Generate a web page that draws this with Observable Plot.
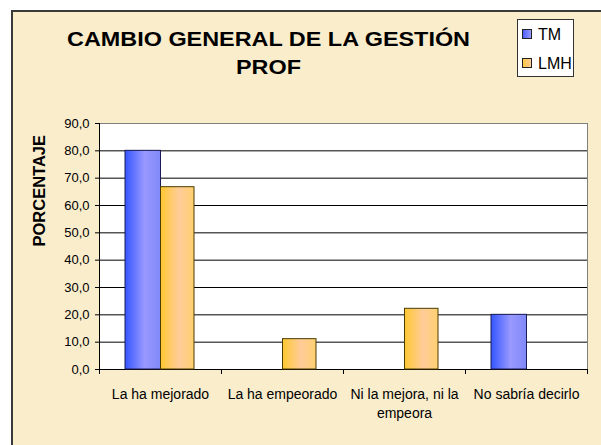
<!DOCTYPE html>
<html>
<head>
<meta charset="utf-8">
<script src="https://cdn.jsdelivr.net/npm/d3@7"></script>
<script src="https://cdn.jsdelivr.net/npm/@observablehq/plot@0.6"></script>
<style>
  html, body { margin: 0; padding: 0; background: #ffffff; }
  body { width: 601px; height: 445px; position: relative; overflow: hidden; font-family: "Liberation Sans", Arial, sans-serif; }
  #panel { position: absolute; left: 11px; top: 10px; width: 592px; height: 437px; border-left: 2px solid #3a3a3a; border-top: 2px solid #3a3a3a; background: #faedcc; }
  #chart { position: absolute; left: 0; top: 0; }
  #title { position: absolute; left: 0; top: 25px; width: 537px; text-align: center; font-weight: bold; font-size: 20px; line-height: 28px; color: #000; transform: scaleX(1.17); transform-origin: 268.5px 0; }
  #legend { position: absolute; left: 517px; top: 19px; width: 55px; height: 56px; border: 1px solid #333; background: #fff; }
  .sw { position: absolute; left: 4px; width: 8px; height: 8px; border: 1px solid #222; }
  .lt { position: absolute; left: 20px; font-size: 16px; line-height: 16px; color: #000; }
</style>
</head>
<body>
<div id="panel"></div>
<div id="chart"></div>
<div id="title">CAMBIO GENERAL DE LA GESTIÓN<br>PROF</div>
<div id="legend"></div>
<script>
const categories = ["La ha mejorado", "La ha empeorado", "Ni la mejora, ni la empeora", "No sabría decirlo"];
const categoryLabels = ["La ha mejorado", "La ha empeorado", "Ni la mejora, ni la\nempeora", "No sabría decirlo"];
const seriesNames = ["TM", "LMH"];
const tmValues = [80.0, 0.0, 0.0, 20.0];
const lmhValues = [66.7, 11.1, 22.2, 0.0];
const yTicks = [0, 10, 20, 30, 40, 50, 60, 70, 80, 90];
const yLabel = "PORCENTAJE";

const fmt = d => d.toFixed(1).replace(".", ",");
const tmData = categories.map((c, i) => ({c, v: tmValues[i]})).filter(d => d.v > 0);
const lmhData = categories.map((c, i) => ({c, v: lmhValues[i]})).filter(d => d.v > 0);

const plot = Plot.plot({
  width: 601,
  height: 445,
  marginLeft: 99,
  marginRight: 14,
  marginTop: 123,
  marginBottom: 76,
  style: {background: "none", fontFamily: "'Liberation Sans', Arial, sans-serif", fontSize: "13px", color: "#000"},
  x: {domain: categories, padding: 0, axis: null},
  y: {domain: [0, 90]},
  marks: [
    Plot.frame({fill: "white", stroke: "#808080"}),
    Plot.ruleY(yTicks.filter(v => v > 0 && v < 90), {stroke: "#000", strokeWidth: 1}),
    Plot.ruleY([0], {stroke: "#000"}),
    Plot.ruleX([categories[0]], {dx: -61, stroke: "#000"}),
    Plot.ruleX(categories, {x: d => d, y1: d => 0, y2: d => 0, insetBottom: -5, dx: -61, stroke: "#000"}),
    Plot.ruleX([categories[categories.length - 1]], {x: d => d, y1: d => 0, y2: d => 0, insetBottom: -5, dx: 61, stroke: "#000"}),
    Plot.axisY({ticks: yTicks, tickSize: 4, tickPadding: 6, tickFormat: fmt, label: null, fontSize: 13}),
    Plot.text([yLabel], {frameAnchor: "left", dx: -60, rotate: -90, fontWeight: "bold", fontSize: 16.5, fill: "#000"}),
    Plot.barY(tmData, {x: "c", y: "v", fill: "url(#gradTM)", stroke: "#1c1c55", strokeWidth: 1, insetLeft: 26, insetRight: 60.5}),
    Plot.barY(lmhData, {x: "c", y: "v", fill: "url(#gradLMH)", stroke: "#4a3c00", strokeWidth: 1, insetLeft: 61.5, insetRight: 27}),
    Plot.text(categories, {x: d => d, text: (d, i) => categoryLabels[i], frameAnchor: "bottom", lineAnchor: "top", dy: 15.5, fontSize: 14, lineHeight: 1.36, fill: "#000"})
  ]
});

d3.select(plot).insert("defs", ":first-child").html(`
  <linearGradient id="gradTM" x1="0" x2="1" y1="0" y2="0">
    <stop offset="0" stop-color="#3355ff"/>
    <stop offset="0.55" stop-color="#9999ff"/>
    <stop offset="1" stop-color="#8088f8"/>
  </linearGradient>
  <linearGradient id="gradLMH" x1="0" x2="1" y1="0" y2="0">
    <stop offset="0" stop-color="#ffc830"/>
    <stop offset="0.55" stop-color="#ffcc99"/>
    <stop offset="1" stop-color="#ffd070"/>
  </linearGradient>`);

document.getElementById("chart").appendChild(plot);

const legendColors = {TM: "linear-gradient(to right, #4a60ff, #9999ff)", LMH: "linear-gradient(to right, #ffc840, #ffcc99)"};
const legend = document.getElementById("legend");
seriesNames.forEach((s, i) => {
  const sw = document.createElement("div");
  sw.className = "sw";
  sw.style.top = (9 + i * 29) + "px";
  sw.style.background = legendColors[s];
  legend.appendChild(sw);
  const t = document.createElement("div");
  t.className = "lt";
  t.style.top = (7 + i * 29) + "px";
  t.textContent = s;
  legend.appendChild(t);
});
</script>
</body>
</html>
